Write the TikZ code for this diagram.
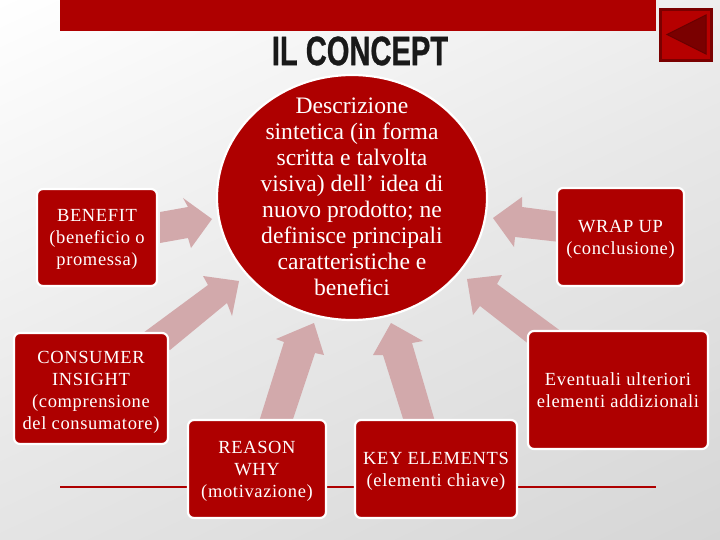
\documentclass[tikz,border=0pt]{standalone}
\usepackage{fontspec}
\usetikzlibrary{shapes.geometric}
\setmainfont[LetterSpace=3.5]{Liberation Serif}
\newfontfamily\hubfont{Liberation Serif}
\newfontfamily\titlefont[FakeBold=0.9]{Liberation Sans}
\definecolor{brick}{HTML}{AE0000}
\definecolor{brickdark}{HTML}{7A0000}
\definecolor{arrowpink}{HTML}{D2A9AB}
\definecolor{bggray}{HTML}{D6D6D6}
\tikzset{
  card/.style={draw=white,line width=2.2pt,fill=brick,rounded corners=6pt,inner sep=0pt},
  cardtext/.style={text=white,align=center,font=\fontsize{18.5}{22}\selectfont,inner sep=0pt},
  bigarrow/.style={fill=arrowpink,draw=none},
  rulebar/.style={draw=brick,line width=2.6pt}
}
\begin{document}
\begin{tikzpicture}[x=1pt,y=-1pt]
\useasboundingbox (0,0) rectangle (720,540);
% background
\begin{scope}
\clip (0,0) rectangle (720,540);
\shade[shading=axis,top color=white,bottom color=bggray,middle color=white!45!bggray,shading angle=25] (-100,-100) rectangle (820,640);
\end{scope}
% header
\fill[brick] (60,0) rectangle (656,31);
\node[draw=brickdark,line width=2.6pt,fill=brick!90!red,minimum width=51pt,minimum height=51pt,inner sep=0pt] (btn) at (686,35) {};
\fill[brickdark,draw=brickdark!85!black,line width=1pt] (667,34.5) -- (706,15) -- (706,54) -- cycle;
\node[font=\titlefont\bfseries\fontsize{41}{41}\selectfont,xscale=.71,text=black!90,inner sep=0pt] (title) at (360,51) {IL CONCEPT};
% rules
\coordinate (ruleL) at (60,487);
\coordinate (ruleR) at (656,487);
\draw[rulebar] (ruleL) -- (ruleR);
% arrows
\fill[bigarrow] (160,212) -- (188,207) -- (183,198) -- (212,219) -- (191,248) -- (188,238) -- (160,243) -- cycle;
\fill[bigarrow] (143,333) -- (208,285) -- (203,276) -- (239,281) -- (232,316) -- (227,303) -- (170,350) -- cycle;
\fill[bigarrow] (258,425) -- (284,342) -- (276,339) -- (314,323) -- (324,355) -- (315,353) -- (291,425) -- cycle;
\fill[bigarrow] (405,425) -- (383,355) -- (373,355) -- (391,323) -- (423,341) -- (412,343) -- (436,425) -- cycle;
\fill[bigarrow] (560,212) -- (522,207) -- (522,197) -- (493,218) -- (514,247) -- (515,237) -- (560,242) -- cycle;
\fill[bigarrow] (562,332) -- (497,284) -- (502,275) -- (467,279) -- (473,315) -- (480,306) -- (530,345) -- cycle;
% circle
\node[ellipse,draw=white,line width=2.2pt,fill=brick,minimum width=270pt,minimum height=245pt,inner sep=0pt] (hub) at (352,197.5) {};
\node[cardtext,font=\hubfont\fontsize{23.6}{26}\selectfont] (hubtext) at (352,197) {Descrizione\\sintetica (in forma\\scritta e talvolta\\visiva) dell’ idea di\\nuovo prodotto; ne\\definisce principali\\caratteristiche e\\benefici};
% cards
\node[card,minimum width=120pt,minimum height=97pt] (benefit) at (97,237.5) {};
\node[cardtext] (benefitt) at (97,239.7) {BENEFIT\\(beneficio o\\promessa)};
\node[card,minimum width=154pt,minimum height=111pt] (consumer) at (91,388.5) {};
\node[cardtext] (consumert) at (91,392) {CONSUMER\\INSIGHT\\(comprensione\\del consumatore)};
\node[card,minimum width=138pt,minimum height=98pt] (reason) at (257,469) {};
\node[cardtext] (reasont) at (257,471) {REASON\\WHY\\(motivazione)};
\node[card,minimum width=162pt,minimum height=98pt] (key) at (436,469) {};
\node[cardtext] (keyt) at (436,471) {KEY ELEMENTS\\(elementi chiave)};
\node[card,minimum width=127pt,minimum height=98pt] (wrap) at (620.5,237) {};
\node[cardtext] (wrapt) at (620.5,239) {WRAP UP\\(conclusione)};
\node[card,minimum width=180pt,minimum height=118pt] (even) at (618,390) {};
\node[cardtext] (event) at (618,390) {Eventuali ulteriori\\elementi addizionali};
\end{tikzpicture}
\end{document}
